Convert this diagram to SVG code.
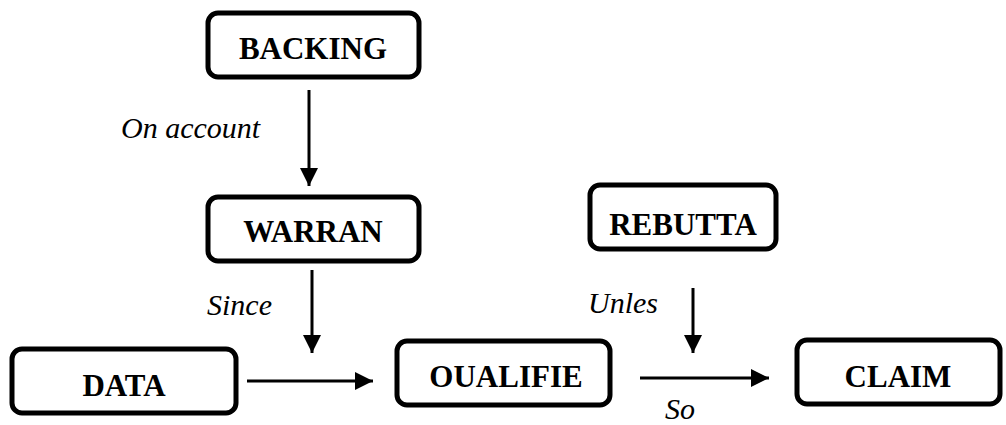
<svg xmlns="http://www.w3.org/2000/svg" width="1006" height="425" viewBox="0 0 1006 425">
<style>
.box{fill:#fff;stroke:#000;stroke-width:5}
.lbl{font-family:"Liberation Serif","Times New Roman",serif;font-weight:bold;font-size:31px;text-anchor:middle;fill:#000}
.it{font-family:"Liberation Serif","Times New Roman",serif;font-style:italic;font-size:30px;fill:#000}
.con{stroke:#000;stroke-width:3;fill:none;marker-end:url(#ah)}
</style>
<defs>
<marker id="ah" markerUnits="userSpaceOnUse" markerWidth="20" markerHeight="20" refX="18" refY="9" orient="auto">
<path d="M0,0 L18,9 L0,18 Z" fill="#000"/>
</marker>
</defs>
<g id="backing"><rect class="box" x="208" y="13" width="211" height="64" rx="10"/><text class="lbl" x="313" y="59">BACKING</text></g>
<g id="warran"><rect class="box" x="208" y="197" width="211" height="64" rx="10"/><text class="lbl" x="313" y="242">WARRAN</text></g>
<g id="rebutta"><rect class="box" x="590" y="185" width="186" height="64" rx="10"/><text class="lbl" x="683" y="235">REBUTTA</text></g>
<g id="data"><rect class="box" x="12" y="349" width="224" height="64" rx="10"/><text class="lbl" x="124" y="396">DATA</text></g>
<g id="qualifie"><rect class="box" x="397" y="341" width="213" height="64" rx="10"/><text class="lbl" x="506" y="387">OUALIFIE</text></g>
<g id="claim"><rect class="box" x="797" y="340" width="203" height="64" rx="10"/><text class="lbl" x="898" y="387">CLAIM</text></g>
<g id="connectors">
<line class="con" x1="309" y1="90" x2="309" y2="186"/>
<line class="con" x1="312" y1="270" x2="312" y2="353"/>
<line class="con" x1="693" y1="288" x2="693" y2="353"/>
<line class="con" x1="247" y1="381" x2="373" y2="381"/>
<line class="con" x1="640" y1="378" x2="769" y2="378"/>
</g>
<g id="labels">
<text class="it" x="121" y="138">On account</text>
<text class="it" x="207" y="315">Since</text>
<text class="it" x="588" y="313">Unles</text>
<text class="it" x="665" y="419">So</text>
</g>
</svg>
